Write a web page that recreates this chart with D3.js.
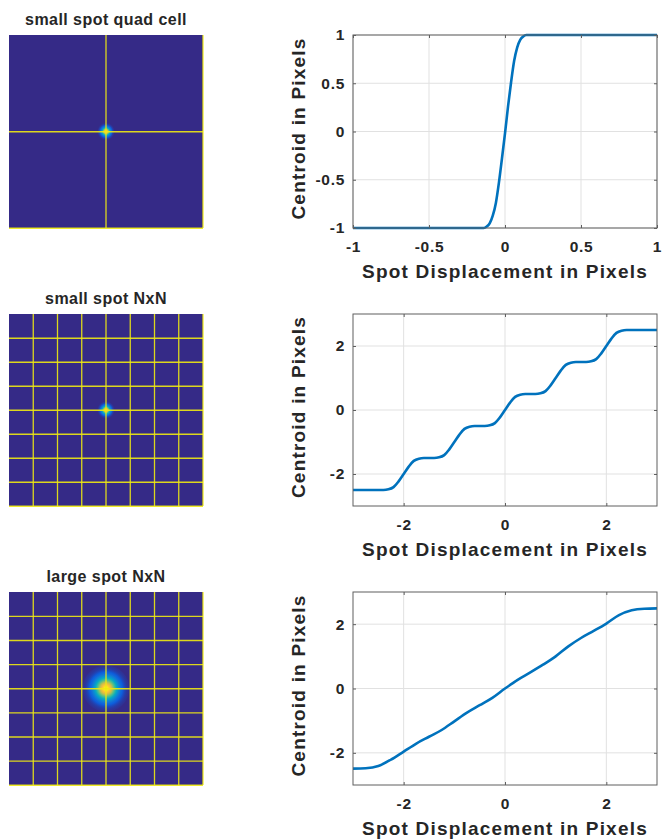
<!DOCTYPE html>
<html>
<head>
<meta charset="utf-8">
<script src="https://cdn.jsdelivr.net/npm/d3@7"></script>
<style>
  body { margin: 0; background: #fff; }
  text { font-family: "Liberation Sans", Arial, sans-serif; font-weight: bold; fill: #262626; }
</style>
</head>
<body>
<svg id="fig" width="662" height="840"></svg>
<script>
// detector images (left column)
var imageTitles = ["small spot quad cell", "small spot NxN", "large spot NxN"];
var detectorCells = [2, 8, 8];          // detector pixels across the frame
var spotWidth = [0.0145, 0.0145, 0.04]; // gaussian sigma, as fraction of frame

// centroid curves (right column)
var quadX = [-1, -0.14, -0.12, -0.1, -0.08, -0.06, -0.04, -0.02, 0, 0.02, 0.04, 0.06, 0.08, 0.1, 0.12, 0.14, 1];
var quadY = [-1, -1, -0.985, -0.95, -0.87, -0.74, -0.53, -0.28, -0.02, 0.26, 0.51, 0.73, 0.87, 0.95, 0.985, 1, 1];

var smallX = [-3, -2.9, -2.8, -2.7, -2.6, -2.5, -2.4, -2.3, -2.2, -2.1,
  -2, -1.9, -1.8, -1.7, -1.6, -1.5, -1.4, -1.3, -1.2, -1.1,
  -1, -0.9, -0.8, -0.7, -0.6, -0.5, -0.4, -0.3, -0.2, -0.1,
  0, 0.1, 0.2, 0.3, 0.4, 0.5, 0.6, 0.7, 0.8, 0.9,
  1, 1.1, 1.2, 1.3, 1.4, 1.5, 1.6, 1.7, 1.8, 1.9,
  2, 2.1, 2.2, 2.3, 2.4, 2.5, 2.6, 2.7, 2.8, 2.9, 3];
var smallY = [-2.5, -2.5, -2.5, -2.5, -2.5, -2.5, -2.5, -2.48, -2.41, -2.23,
  -2, -1.77, -1.59, -1.52, -1.5, -1.5, -1.5, -1.48, -1.41, -1.23,
  -1, -0.77, -0.59, -0.52, -0.5, -0.5, -0.5, -0.48, -0.41, -0.23,
  0, 0.23, 0.41, 0.48, 0.5, 0.5, 0.5, 0.52, 0.59, 0.77,
  1, 1.23, 1.41, 1.48, 1.5, 1.5, 1.5, 1.52, 1.59, 1.77,
  2, 2.23, 2.41, 2.48, 2.5, 2.5, 2.5, 2.5, 2.5, 2.5, 2.5];

var largeX = [-3, -2.75, -2.5, -2.25, -2, -1.75, -1.5, -1.25, -1, -0.75, -0.5, -0.25,
  0, 0.25, 0.5, 0.75, 1, 1.25, 1.5, 1.75, 2, 2.25, 2.5, 2.75, 3];
var largeY = [-2.49, -2.48, -2.41, -2.21, -1.96, -1.71, -1.5, -1.29, -1.02, -0.75, -0.52, -0.29,
  0, 0.27, 0.5, 0.74, 1, 1.31, 1.57, 1.79, 2.02, 2.28, 2.43, 2.48, 2.49];

var quadTicks = [-1, -0.5, 0, 0.5, 1];
var nxnTicks = [-2, 0, 2];
var xLabel = "Spot Displacement in Pixels";
var yLabel = "Centroid in Pixels";

var curves = [
  { xs: quadX, ys: quadY, ticks: quadTicks, domain: [-1, 1] },
  { xs: smallX, ys: smallY, ticks: nxnTicks, domain: [-3, 3] },
  { xs: largeX, ys: largeY, ticks: nxnTicks, domain: [-3, 3] }
];

// layout
var imgX = [9, 203], plotX = [353, 657];
var rowY = [[35, 228], [314, 506], [592, 785]];

var parula = d3.scaleLinear()
  .domain(d3.range(11).map(function(i) { return i / 10; }))
  .range(["#352a87", "#0c5cde", "#1277d6", "#0693d2", "#08aac0", "#33b8a1",
          "#62c17f", "#a8bf5c", "#e0bb42", "#fcc535", "#f9fb0e"])
  .interpolate(d3.interpolateRgb);

var svg = d3.select("#fig");
var defs = svg.append("defs");

imageTitles.forEach(function(title, i) {
  var top = rowY[i][0], bot = rowY[i][1];
  var g = svg.append("g");
  var cx = d3.scaleLinear().domain([0, detectorCells[i]]).range(imgX);
  var cy = d3.scaleLinear().domain([0, detectorCells[i]]).range([top, bot]);
  var frame = imgX[1] - imgX[0];

  g.append("rect")
    .attr("x", imgX[0]).attr("y", top)
    .attr("width", frame).attr("height", bot - top)
    .attr("fill", parula(0));

  // gaussian spot, coloured through parula
  var R = 3 * spotWidth[i] * frame;
  var grad = defs.append("radialGradient").attr("id", "spot" + i);
  d3.range(21).forEach(function(j) {
    var t = j / 20;
    grad.append("stop")
      .attr("offset", t)
      .attr("stop-color", parula(Math.exp(-(3 * t) * (3 * t) / 2)));
  });
  g.append("circle")
    .attr("cx", cx(detectorCells[i] / 2))
    .attr("cy", cy(detectorCells[i] / 2))
    .attr("r", R)
    .attr("fill", "url(#spot" + i + ")");

  var cuts = d3.range(1, detectorCells[i] + 1);
  g.selectAll(".vl").data(cuts).enter().append("line")
    .attr("x1", function(d) { return cx(d); }).attr("x2", function(d) { return cx(d); })
    .attr("y1", top).attr("y2", bot);
  g.selectAll(".hl").data(cuts).enter().append("line")
    .attr("y1", function(d) { return cy(d) + 0.25; }).attr("y2", function(d) { return cy(d) + 0.25; })
    .attr("x1", imgX[0]).attr("x2", imgX[1]);
  g.selectAll("line")
    .attr("stroke", "#f0ea12")
    .attr("stroke-opacity", 0.9)
    .attr("stroke-width", 1.3);

  g.append("text")
    .attr("x", (imgX[0] + imgX[1]) / 2)
    .attr("y", top - 10)
    .attr("text-anchor", "middle")
    .style("font-size", "16px")
    .style("letter-spacing", "0.45px")
    .text(title);
});

var fmt = function(d) { return String(d); };

curves.forEach(function(c, i) {
  var top = rowY[i][0], bot = rowY[i][1];
  var x = d3.scaleLinear().domain(c.domain).range(plotX);
  var y = d3.scaleLinear().domain(c.domain).range([bot, top]);
  var g = svg.append("g");

  // grid
  g.selectAll(".gx").data(c.ticks).enter().append("line")
    .attr("x1", function(d) { return x(d); }).attr("x2", function(d) { return x(d); })
    .attr("y1", top).attr("y2", bot)
    .attr("stroke", "#e1e1e1");
  g.selectAll(".gy").data(c.ticks).enter().append("line")
    .attr("y1", function(d) { return y(d); }).attr("y2", function(d) { return y(d); })
    .attr("x1", plotX[0]).attr("x2", plotX[1])
    .attr("stroke", "#e1e1e1");

  g.append("path")
    .datum(d3.zip(c.xs, c.ys))
    .attr("d", d3.line()
      .x(function(d) { return x(d[0]); })
      .y(function(d) { return y(d[1]); })
      .curve(d3.curveMonotoneX))
    .attr("fill", "none")
    .attr("stroke", "#0072bd")
    .attr("stroke-width", 2.6);

  g.append("rect")
    .attr("x", plotX[0]).attr("y", top)
    .attr("width", plotX[1] - plotX[0]).attr("height", bot - top)
    .attr("fill", "none").attr("stroke", "#5f5f5f").attr("stroke-width", 1);

  var axes = [
    g.append("g").attr("transform", "translate(0," + bot + ")")
      .call(d3.axisBottom(x).tickValues(c.ticks).tickSizeInner(-3).tickSizeOuter(0).tickPadding(13).tickFormat(fmt)),
    g.append("g").attr("transform", "translate(" + plotX[0] + ",0)")
      .call(d3.axisLeft(y).tickValues(c.ticks).tickSizeInner(-3).tickSizeOuter(0).tickPadding(8).tickFormat(fmt)),
    g.append("g").attr("transform", "translate(0," + top + ")")
      .call(d3.axisTop(x).tickValues(c.ticks).tickSizeInner(-3).tickSizeOuter(0).tickFormat("")),
    g.append("g").attr("transform", "translate(" + plotX[1] + ",0)")
      .call(d3.axisRight(y).tickValues(c.ticks).tickSizeInner(-3).tickSizeOuter(0).tickFormat(""))
  ];
  axes.forEach(function(a) {
    a.attr("color", "#5f5f5f").attr("font-size", null).attr("font-family", null);
    a.select(".domain").remove();
    a.selectAll("text").style("font-size", "15.5px").style("letter-spacing", "0.7px");
  });

  g.append("text")
    .attr("x", (plotX[0] + plotX[1]) / 2)
    .attr("y", bot + 50)
    .attr("text-anchor", "middle")
    .style("font-size", "19px")
    .style("letter-spacing", "1.2px")
    .text(xLabel);

  g.append("text")
    .attr("transform", "translate(305," + ((top + bot) / 2 - 3) + ") rotate(-90)")
    .attr("text-anchor", "middle")
    .style("font-size", "19px")
    .style("letter-spacing", "1.2px")
    .text(yLabel);
});
</script>
</body>
</html>
